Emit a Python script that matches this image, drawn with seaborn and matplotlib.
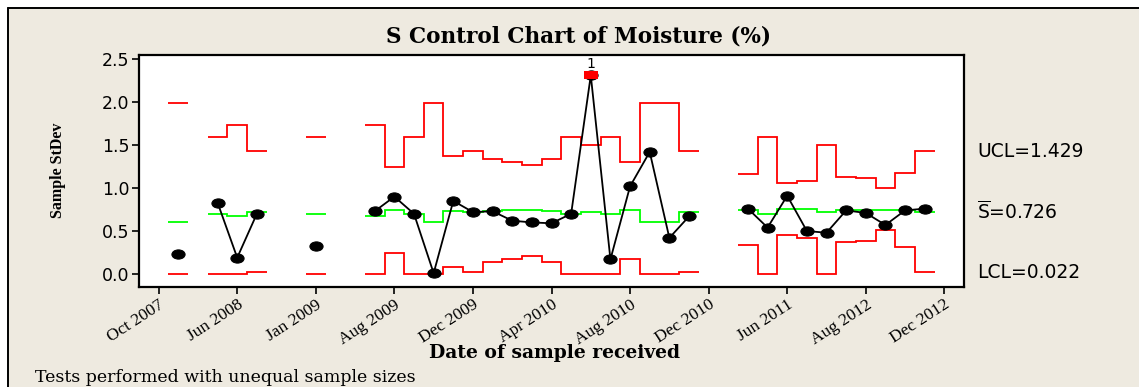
import numpy as np
import pandas as pd
import matplotlib
matplotlib.use("Agg")
import matplotlib.pyplot as plt
from matplotlib.path import Path
from matplotlib.patches import Rectangle
from matplotlib.lines import Line2D
from matplotlib.transforms import Affine2D, blended_transform_factory
import seaborn as sns

# Subgroup number along the sample axis (gaps are periods with no samples)
sample_no = [1, 3, 4, 5, 8,
             11, 12, 13, 14, 15, 16, 17, 18, 19, 20, 21, 22, 23, 24, 25, 26, 27,
             30, 31, 32, 33, 34, 35, 36, 37, 38, 39]
# Contiguous runs of subgroups
run_id = [1, 2, 2, 2, 3] + [4] * 17 + [5] * 10

# Subgroup standard deviations
stdev = [0.23, 0.83, 0.19, 0.70, 0.32,
         0.73, 0.90, 0.70, 0.01, 0.85, 0.72, 0.73, 0.62, 0.60, 0.59, 0.70,
         2.31, 0.17, 1.02, 1.42, 0.42, 0.67,
         0.76, 0.54, 0.91, 0.50, 0.48, 0.74, 0.71, 0.57, 0.74, 0.76]

# Control limits (they vary with the subgroup size)
ucl = [1.988, 1.593, 1.737, 1.429, 1.593,
       1.737, 1.249, 1.593, 1.988, 1.378, 1.429, 1.336, 1.302, 1.273, 1.336, 1.593,
       1.499, 1.593, 1.302, 1.988, 1.988, 1.429,
       1.162, 1.593, 1.054, 1.081, 1.499, 1.132, 1.120, 1.004, 1.171, 1.429]
center = [0.609, 0.703, 0.676, 0.726, 0.703,
          0.676, 0.744, 0.703, 0.609, 0.732, 0.726, 0.736, 0.740, 0.742, 0.736, 0.703,
          0.717, 0.703, 0.740, 0.609, 0.609, 0.726,
          0.750, 0.703, 0.756, 0.756, 0.717, 0.744, 0.745, 0.750, 0.744, 0.726]
lcl = [0.0, 0.0, 0.0, 0.022, 0.0,
       0.0, 0.245, 0.0, 0.0, 0.086, 0.022, 0.137, 0.177, 0.211, 0.137, 0.0,
       0.0, 0.0, 0.177, 0.0, 0.0, 0.022,
       0.342, 0.0, 0.453, 0.415, 0.0, 0.376, 0.384, 0.512, 0.310, 0.022]

tick_pos = [0, 4, 8, 12, 16, 20, 24, 28, 32, 36, 40]
tick_labels = ["Oct 2007", "Jun 2008", "Jan 2009", "Aug 2009", "Dec 2009",
               "Apr 2010", "Aug 2010", "Dec 2010", "Jun 2011", "Aug 2012",
               "Dec 2012"]
y_ticks = [0.0, 0.5, 1.0, 1.5, 2.0, 2.5]

df = pd.DataFrame({"sample": sample_no, "run": run_id, "s": stdev,
                   "ucl": ucl, "cl": center, "lcl": lcl})
df["flag"] = df["s"] > df["ucl"]

BG = "#EEEAE0"
W, H = 1139, 387

sns.set_theme(style="white")
plt.rcParams["font.family"] = ["DejaVu Sans"]
plt.rcParams.update({"text.color": "black", "axes.labelcolor": "black",
                     "xtick.color": "black", "ytick.color": "black"})

fig = plt.figure(figsize=(W / 100, H / 100), dpi=100, facecolor="white")
# Panel background with a frame along its top and left edges
fx, fy = 8 / W, 1 - 8 / H
fig.patches.append(Rectangle((fx, 0), 1 - fx, fy, transform=fig.transFigure,
                             facecolor=BG, edgecolor="none", zorder=-10))
fig.lines.append(Line2D([fx, 1], [fy, fy], transform=fig.transFigure,
                        color="black", lw=1.4))
fig.lines.append(Line2D([fx, fx], [0, fy], transform=fig.transFigure,
                        color="black", lw=1.4))

ax = fig.add_axes([139 / W, 1 - 287 / H, 825 / W, 232 / H])
ax.set_facecolor("white")

# Step-wise control limits, one run of contiguous subgroups at a time
for _, run in df.groupby("run"):
    x = run["sample"].to_numpy()
    edges = np.r_[x - 0.5, x[-1] + 0.5]
    ax.stairs(run["ucl"], edges, baseline=None, color="#FF0000", lw=1.3, zorder=2)
    ax.stairs(run["lcl"], edges, baseline=None, color="#FF0000", lw=1.3, zorder=2)
    ax.stairs(run["cl"], edges, baseline=None, color="#00FF00", lw=1.3, zorder=2)

ellipse = Path.unit_circle().transformed(Affine2D().scale(1.0, 0.7))
flat_box = Path([(-1, -0.55), (1, -0.55), (1, 0.55), (-1, 0.55), (-1, -0.55)],
                [Path.MOVETO, Path.LINETO, Path.LINETO, Path.LINETO, Path.CLOSEPOLY])

sns.lineplot(data=df, x="sample", y="s", units="run", estimator=None, sort=False,
             color="black", lw=1.3, marker=ellipse, markersize=9.5,
             markeredgecolor="black", markerfacecolor="black", ax=ax, zorder=3)

flagged = df[df["flag"]]
sns.scatterplot(data=flagged, x="sample", y="s", marker=flat_box, s=95,
                color="#FF0000", edgecolor="#FF0000", linewidth=0, ax=ax, zorder=4)
for _, r in flagged.iterrows():
    ax.annotate("1", (r["sample"], r["s"]), xytext=(0, 3), textcoords="offset points",
                ha="center", va="bottom", fontsize=10, color="black")

ax.set_xlim(-1, 41)
ax.set_ylim(-0.151, 2.547)
ax.set_xticks(tick_pos)
ax.set_xticklabels(tick_labels, rotation=33, ha="right", rotation_mode="anchor",
                   family="Liberation Serif", fontsize=12.5)
ax.set_yticks(y_ticks)
ax.set_yticklabels([f"{v:.1f}" for v in y_ticks], fontsize=12.5)
ax.tick_params(axis="both", direction="out", length=5, width=1.2, color="black",
               labelcolor="black", bottom=True, left=True, pad=2)
ax.set_xlabel("")
ax.set_ylabel("")
for sp in ax.spines.values():
    sp.set_color("black")
    sp.set_linewidth(1.6)

# Limit labels for the last subgroup, at the height of each line
last = df.iloc[-1]
tr = blended_transform_factory(ax.transAxes, ax.transData)
lab_kw = dict(transform=tr, ha="left", va="center", fontsize=13.5, color="black")
ax.text(1.016, last["ucl"], f"UCL={last['ucl']:.3f}", **lab_kw)
ax.text(1.016, last["cl"], r"$\overline{\mathrm{S}}$" + f"={last['cl']:.3f}", **lab_kw)
ax.text(1.016, last["lcl"], f"LCL={last['lcl']:.3f}", **lab_kw)

fig.text(578 / W, 1 - 37 / H, "S Control Chart of Moisture (%)", ha="center",
         va="center", family="DejaVu Serif", weight="bold", fontsize=15.5,
         color="black")
fig.text(555 / W, 1 - 353 / H, "Date of sample received", ha="center",
         va="center", family="DejaVu Serif", weight="bold", fontsize=13.5,
         color="black")
fig.text(58 / W, 1 - 170 / H, "Sample StDev", ha="center", va="center",
         rotation=90, family="Liberation Serif", weight="bold", fontsize=11.5,
         color="black")
fig.text(35 / W, 1 - 377 / H, "Tests performed with unequal sample sizes",
         ha="left", va="center", family="DejaVu Serif", fontsize=12.5,
         color="black")

fig.savefig("out.png", dpi=100, facecolor="white")
